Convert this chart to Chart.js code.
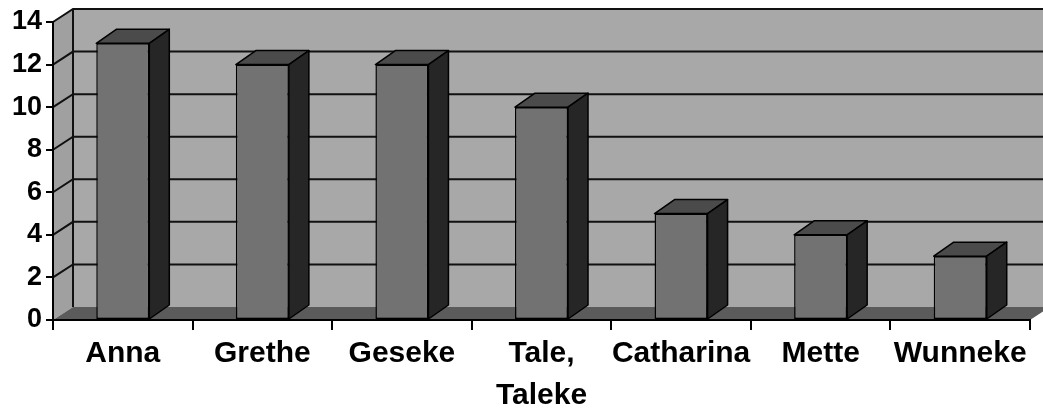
<!DOCTYPE html>
<html><head><meta charset="utf-8">
<script src="https://cdn.jsdelivr.net/npm/chart.js@4"></script>
<style>html,body{margin:0;padding:0;background:#fff}#wrap{width:1043px;height:412px}</style>
</head><body><div id="wrap"><canvas id="c" width="1043" height="412"></canvas></div>
<script>
const categories = ['Anna', 'Grethe', 'Geseke', ['Tale,', 'Taleke'], 'Catharina', 'Mette', 'Wunneke'];
const counts = [13, 12, 12, 10, 5, 4, 3];
const yTicks = [0, 2, 4, 6, 8, 10, 12, 14];

const DX = 20, DY = -13;

const walls3d = {
  id: 'walls3d',
  beforeDraw(chart) {
    const {ctx, chartArea: a, scales: {y}} = chart;
    const W = chart.width;
    ctx.save();
    ctx.fillStyle = '#a8a8a8';
    ctx.fillRect(a.left + DX, a.top + DY, W - (a.left + DX), a.bottom - a.top);
    ctx.fillStyle = '#a0a0a0';
    ctx.beginPath();
    ctx.moveTo(a.left, a.bottom); ctx.lineTo(a.left, a.top);
    ctx.lineTo(a.left + DX, a.top + DY); ctx.lineTo(a.left + DX, a.bottom + DY);
    ctx.closePath(); ctx.fill();
    ctx.fillStyle = '#5b5b5b';
    ctx.beginPath();
    ctx.moveTo(a.left, a.bottom); ctx.lineTo(a.right, a.bottom);
    ctx.lineTo(a.right + DX, a.bottom + DY); ctx.lineTo(a.left + DX, a.bottom + DY);
    ctx.closePath(); ctx.fill();
    ctx.strokeStyle = '#111'; ctx.lineWidth = 2;
    yTicks.forEach(v => {
      if (v === 0) return;
      const py = y.getPixelForValue(v);
      ctx.beginPath();
      ctx.moveTo(a.left, py); ctx.lineTo(a.left + DX, py + DY); ctx.lineTo(W, py + DY);
      ctx.stroke();
    });
    ctx.beginPath();
    ctx.moveTo(a.left + DX, a.top + DY); ctx.lineTo(a.left + DX, a.bottom + DY);
    ctx.stroke();
    ctx.restore();
  },
  afterDatasetsDraw(chart) {
    const ctx = chart.ctx;
    const BDY = -14;
    ctx.save();
    ctx.lineWidth = 1.5; ctx.strokeStyle = '#000'; ctx.lineJoin = 'round';
    chart.getDatasetMeta(0).data.forEach(bar => {
      const p = bar.getProps(['x', 'y', 'base', 'width'], true);
      const l = p.x - p.width / 2, r = p.x + p.width / 2, t = p.y, b = p.base;
      ctx.fillStyle = '#4b4b4b';
      ctx.beginPath();
      ctx.moveTo(l, t); ctx.lineTo(r, t); ctx.lineTo(r + DX, t + BDY); ctx.lineTo(l + DX, t + BDY);
      ctx.closePath(); ctx.fill(); ctx.stroke();
      ctx.fillStyle = '#262626';
      ctx.beginPath();
      ctx.moveTo(r, t); ctx.lineTo(r + DX, t + BDY); ctx.lineTo(r + DX, b + BDY); ctx.lineTo(r, b);
      ctx.closePath(); ctx.fill(); ctx.stroke();
    });
    ctx.restore();
  }
};

new Chart(document.getElementById('c'), {
  type: 'bar',
  data: {
    labels: categories,
    datasets: [{
      data: counts,
      backgroundColor: '#727272',
      borderColor: '#000',
      borderWidth: 1.5,
      borderSkipped: false,
      categoryPercentage: 1,
      barPercentage: 0.38
    }]
  },
  options: {
    responsive: false,
    animation: false,
    devicePixelRatio: 1,
    layout: {padding: {top: 22, right: 13, left: 0, bottom: 0}},
    plugins: {legend: {display: false}, tooltip: {enabled: false}},
    scales: {
      x: {
        grid: {drawOnChartArea: false, drawTicks: true, tickLength: 10, color: '#000', lineWidth: 2, offset: true},
        border: {display: true, color: '#000', width: 2},
        ticks: {color: '#000', font: {family: 'Liberation Sans, Arial, sans-serif', size: 30, weight: 'bold', lineHeight: 1.4}, padding: 3, maxRotation: 0, autoSkip: false},
        afterFit(s) { s.height = 92; }
      },
      y: {
        min: 0, max: 14,
        ticks: {stepSize: 2, color: '#000', font: {family: 'Liberation Sans, Arial, sans-serif', size: 27, weight: 'bold'}, padding: 4},
        grid: {drawOnChartArea: false, tickLength: 7, color: '#000', lineWidth: 2},
        border: {display: true, color: '#000', width: 2},
        afterFit(s) { s.width = 53; }
      }
    }
  },
  plugins: [walls3d]
});
</script>
</body></html>
